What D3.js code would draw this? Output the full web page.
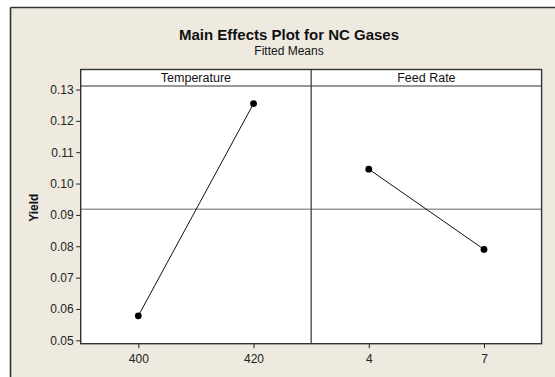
<!DOCTYPE html>
<html><head><meta charset="utf-8">
<script src="https://cdn.jsdelivr.net/npm/d3@7"></script>
<style>
html,body{margin:0;padding:0;background:#fff;overflow:hidden;}
svg{display:block;font-family:"Liberation Sans",Arial,sans-serif;}
</style></head>
<body>
<svg id="c" width="555" height="377"></svg>
<script>
const title = "Main Effects Plot for NC Gases";
const subtitle = "Fitted Means";
const yLabel = "Yield";
const factors = ["Temperature", "Feed Rate"];
const tempLevels = ["400", "420"];
const tempMeans = [0.0578, 0.1255];
const feedLevels = ["4", "7"];
const feedMeans = [0.1046, 0.0790];
const grandMean = 0.0918;
const yTicks = [0.05, 0.06, 0.07, 0.08, 0.09, 0.10, 0.11, 0.12, 0.13];

const panels = [
  {name: factors[0], levels: tempLevels, means: tempMeans},
  {name: factors[1], levels: feedLevels, means: feedMeans}
];

const svg = d3.select("#c");
const W = 555, H = 377;
const L = 80.7, R = 541.6, headTop = 69.5, headBot = 86, bot = 343.7;

// background frame (only top and left edges visible)
svg.append("rect").attr("x", 10.5).attr("y", 7.5).attr("width", W - 10.5).attr("height", H - 7.5)
  .attr("fill", "#EEEAE0");
svg.append("line").attr("x1", 10.5).attr("x2", W).attr("y1", 7.5).attr("y2", 7.5)
  .attr("stroke", "#333").attr("stroke-width", 1.6);
svg.append("line").attr("x1", 10.5).attr("x2", 10.5).attr("y1", 7.5).attr("y2", H)
  .attr("stroke", "#333").attr("stroke-width", 1.6);

svg.append("text").attr("x", 289).attr("y", 40).attr("text-anchor", "middle")
  .attr("font-weight", "bold").attr("font-size", 15).attr("fill", "#111").text(title);
svg.append("text").attr("x", 289).attr("y", 54.5).attr("text-anchor", "middle")
  .attr("font-size", 12).attr("fill", "#111").text(subtitle);

const y = d3.scaleLinear().domain([0.05, 0.13]).range([340.3, 89.5]);
const pw = (R - L) / panels.length;

// white plot area
svg.append("rect").attr("x", L).attr("y", headTop).attr("width", R - L).attr("height", bot - headTop)
  .attr("fill", "#fff");

// grand mean line
svg.append("line").attr("x1", L).attr("x2", R).attr("y1", y(grandMean)).attr("y2", y(grandMean))
  .attr("stroke", "#999").attr("stroke-width", 1.3);

panels.forEach((p, i) => {
  const x0 = L + i * pw, x1 = x0 + pw;
  const x = d3.scalePoint().domain(p.levels).range([x0, x1]).padding(0.5);
  const g = svg.append("g");
  g.append("text").attr("x", (x0 + x1) / 2).attr("y", 82).attr("text-anchor", "middle")
    .attr("font-size", 12.5).attr("fill", "#111").text(p.name);
  const pts = p.levels.map((l, k) => [x(l), y(p.means[k])]);
  g.append("path").attr("d", d3.line()(pts)).attr("fill", "none").attr("stroke", "#111").attr("stroke-width", 1);
  g.selectAll("circle").data(pts).join("circle").attr("cx", d => d[0]).attr("cy", d => d[1])
    .attr("r", 3.4).attr("fill", "#000");
  const ax = svg.append("g").attr("transform", `translate(0,${bot})`)
    .call(d3.axisBottom(x).tickSize(4.5).tickPadding(6.5));
  ax.select(".domain").remove();
  ax.selectAll("line").attr("stroke", "#222");
  ax.selectAll("text").attr("font-size", 12).attr("fill", "#222").attr("font-family", "Liberation Sans, Arial, sans-serif");
  if (i > 0) {
    svg.append("line").attr("x1", x0).attr("x2", x0).attr("y1", headTop).attr("y2", bot)
      .attr("stroke", "#333").attr("stroke-width", 1.2);
  }
});

svg.append("line").attr("x1", L).attr("x2", R).attr("y1", headBot).attr("y2", headBot)
  .attr("stroke", "#333").attr("stroke-width", 1.2);
svg.append("rect").attr("x", L).attr("y", headTop).attr("width", R - L).attr("height", bot - headTop)
  .attr("fill", "none").attr("stroke", "#333").attr("stroke-width", 1.4);

const ay = svg.append("g").attr("transform", `translate(${L},0)`)
  .call(d3.axisLeft(y).tickValues(yTicks).tickFormat(d3.format(".2f")).tickSize(4.5).tickPadding(2.5));
ay.select(".domain").remove();
ay.selectAll("line").attr("stroke", "#222");
ay.selectAll("text").attr("font-size", 12).attr("fill", "#222").attr("font-family", "Liberation Sans, Arial, sans-serif");

svg.append("text").attr("transform", `translate(37.5,207.7) rotate(-90)`).attr("text-anchor", "middle")
  .attr("font-weight", "bold").attr("font-size", 12).attr("fill", "#111").text(yLabel);
</script>
</body></html>
